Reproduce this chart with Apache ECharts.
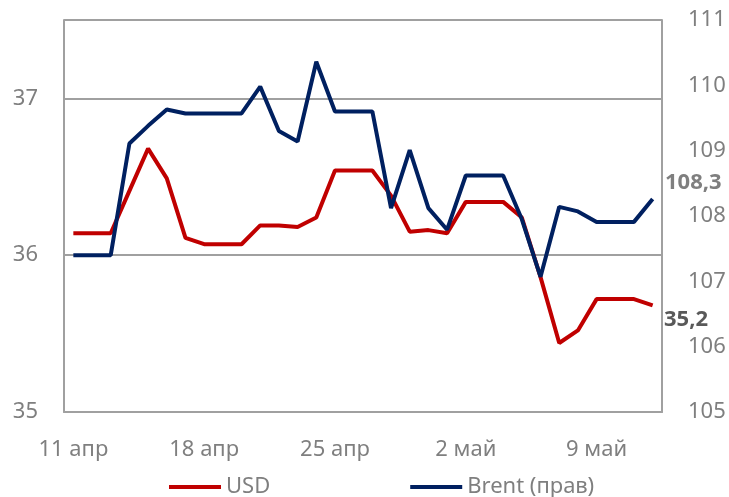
<!DOCTYPE html>
<html>
<head>
<meta charset="utf-8">
<script src="https://cdn.jsdelivr.net/npm/echarts@6/dist/echarts.min.js"></script>
<style>
  html, body { margin: 0; padding: 0; background: #fff; }
  #chart { width: 729px; height: 497px; }
</style>
</head>
<body>
<div id="chart"></div>
<script>
// daily points, 11 апр .. 12 май
const dates = [
  '11 апр', '12 апр', '13 апр', '14 апр', '15 апр', '16 апр', '17 апр', '18 апр',
  '19 апр', '20 апр', '21 апр', '22 апр', '23 апр', '24 апр', '25 апр', '26 апр',
  '27 апр', '28 апр', '29 апр', '30 апр', '1 май', '2 май', '3 май', '4 май',
  '5 май', '6 май', '7 май', '8 май', '9 май', '10 май', '11 май', '12 май'
];

const usd = [
  36.14, 36.14, 36.14, 36.41, 36.68, 36.49, 36.11, 36.07,
  36.07, 36.07, 36.19, 36.19, 36.18, 36.24, 36.54, 36.54,
  36.54, 36.38, 36.15, 36.16, 36.14, 36.34, 36.34, 36.34,
  36.24, 35.86, 35.44, 35.52, 35.72, 35.72, 35.72, 35.68
];

const brent = [
  107.40, 107.40, 107.40, 109.11, 109.38, 109.63, 109.57, 109.57,
  109.57, 109.57, 109.98, 109.30, 109.14, 110.36, 109.60, 109.60,
  109.60, 108.12, 109.01, 108.12, 107.79, 108.62, 108.62, 108.62,
  107.95, 107.07, 108.14, 108.07, 107.91, 107.91, 107.91, 108.26
];

const leftTicks = { min: 35, max: 37.5, step: 1 };
const rightTicks = { min: 105, max: 111, step: 1 };

const lastBrentLabel = '108,3';
const lastUsdLabel = '35,2';

const font = "'Noto Sans', sans-serif";
const gray = '#7f7f7f';
const lineGray = '#a0a0a0';

const chart = echarts.init(document.getElementById('chart'));

chart.setOption({
  animation: false,
  textStyle: { fontFamily: font },
  grid: { left: 64, right: 67, top: 20, bottom: 85, containLabel: false },
  legend: {
    left: 164,
    top: 471,
    icon: 'rect',
    itemWidth: 52,
    itemHeight: 4,
    itemGap: 140,
    textStyle: { fontSize: 22, color: gray, fontFamily: font },
    data: ['USD', 'Brent (прав)']
  },
  xAxis: {
    type: 'category',
    data: dates,
    boundaryGap: true,
    axisLine: { lineStyle: { color: lineGray, width: 2 } },
    axisTick: { show: false },
    axisLabel: {
      interval: 6,
      margin: 27,
      fontSize: 22,
      color: gray,
      fontFamily: font
    }
  },
  yAxis: [
    {
      type: 'value',
      position: 'left',
      min: leftTicks.min,
      max: leftTicks.max,
      interval: leftTicks.step,
      axisLine: { show: true, lineStyle: { color: lineGray, width: 2 } },
      axisTick: { show: false },
      splitLine: { lineStyle: { color: lineGray, width: 2 } },
      axisLabel: {
        margin: 26,
        fontSize: 22,
        color: gray,
        fontFamily: font,
        formatter: (v) => (Number.isInteger(v) ? String(v) : '')
      }
    },
    {
      type: 'value',
      position: 'right',
      min: rightTicks.min,
      max: rightTicks.max,
      interval: rightTicks.step,
      axisLine: { show: true, lineStyle: { color: lineGray, width: 2 } },
      axisTick: { show: false },
      splitLine: { show: false },
      axisLabel: {
        margin: 26,
        fontSize: 22,
        color: gray,
        fontFamily: font
      }
    }
  ],
  series: [
    {
      name: 'USD',
      type: 'line',
      yAxisIndex: 0,
      data: usd,
      symbol: 'none',
      lineStyle: { color: '#c00000', width: 4 },
      itemStyle: { color: '#c00000' }
    },
    {
      name: 'Brent (прав)',
      type: 'line',
      yAxisIndex: 1,
      data: brent,
      symbol: 'none',
      lineStyle: { color: '#002060', width: 4 },
      itemStyle: { color: '#002060' }
    }
  ],
  graphic: [
    {
      type: 'text',
      left: 665,
      top: 172,
      style: { text: lastBrentLabel, font: 'bold 22px ' + font, fill: gray }
    },
    {
      type: 'text',
      left: 664,
      top: 309,
      style: { text: lastUsdLabel, font: 'bold 22px ' + font, fill: '#595959' }
    }
  ]
});
</script>
</body>
</html>
